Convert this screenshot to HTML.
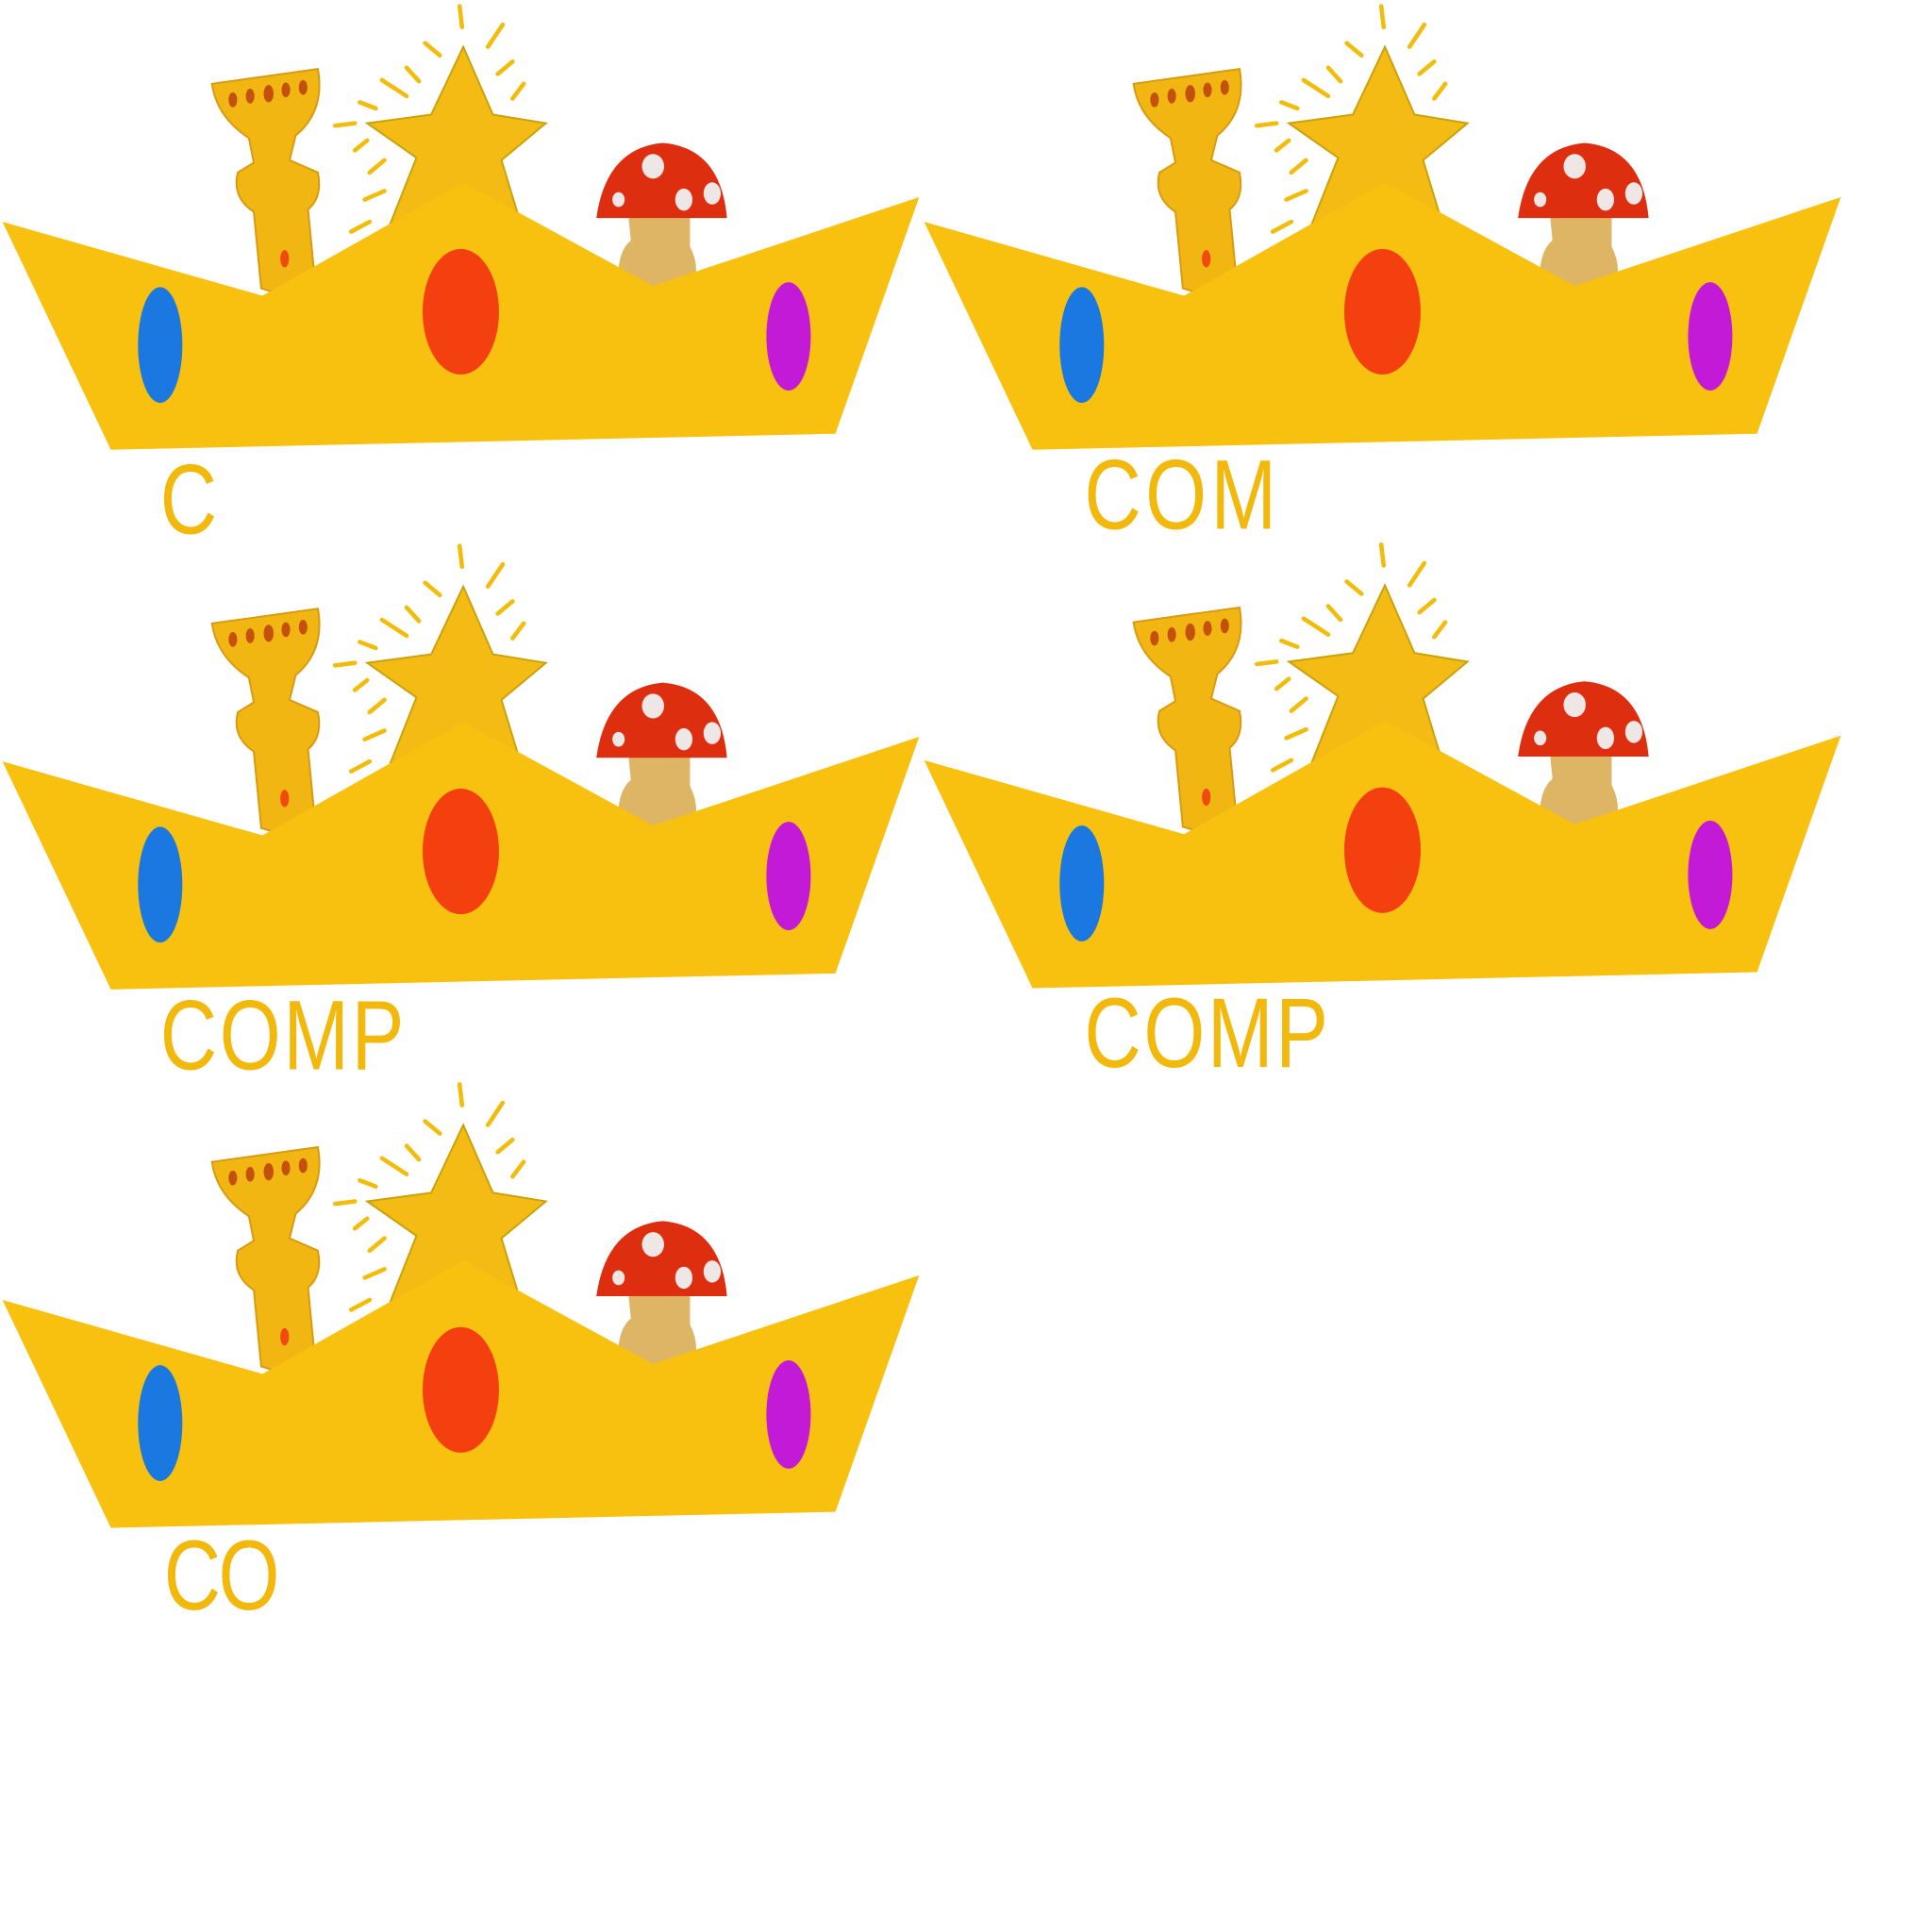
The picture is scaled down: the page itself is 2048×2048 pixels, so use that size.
<!DOCTYPE html>
<html><head><meta charset="utf-8"><style>
html,body{margin:0;padding:0;background:#fff;width:2048px;height:2048px;overflow:hidden}
svg{display:block}
text{font-family:"Liberation Sans",sans-serif;}
</style></head><body>
<svg width="2048" height="2048" viewBox="0 0 1568 1568" xmlns="http://www.w3.org/2000/svg">
<defs>
<g id="crown">
  <g stroke="#f2bc0a" stroke-width="3.5" stroke-linecap="round" fill="none">
    <path d="M373 5 L375 22"/><path d="M408 20 L396 38"/><path d="M345 35 L357 45"/>
    <path d="M416 50 L404 60"/><path d="M425 68 L416 80"/><path d="M310 65 L330 78"/>
    <path d="M292 83 L305 88"/><path d="M272 102 L288 100"/><path d="M288 122 L298 114"/>
    <path d="M300 140 L312 130"/><path d="M296 162 L312 155"/><path d="M285 188 L300 180"/>
    <path d="M330 55 L340 66"/>
  </g>
  <g>
    <path d="M172 68 L258 56 Q264 90 240 110 L235 130 L258 140 Q262 160 250 170 L256 232 L232 240 L212 234 L206 172 Q188 160 193 140 L206 132 L202 112 Q176 95 172 68Z" fill="#f1b612" stroke="#d89a10" stroke-width="1.5"/>
    <g fill="#c4500a"><ellipse cx="189" cy="81" rx="3.5" ry="6"/><ellipse cx="203" cy="78" rx="3.5" ry="6"/><ellipse cx="218" cy="76" rx="4" ry="7"/><ellipse cx="232" cy="73" rx="3.5" ry="6"/><ellipse cx="246" cy="71" rx="3.5" ry="6"/></g>
    <ellipse cx="231" cy="210" rx="3.5" ry="7" fill="#f04a10"/>
  </g>
  <g>
    <path d="M510 175 L560 175 L560 200 Q570 220 560 235 L530 245 L502 232 Q500 205 512 195Z" fill="#ddb564"/>
    <path d="M484 177 Q492 120 538 116 Q585 120 590 177Z" fill="#de2e10"/>
    <g fill="#efe6e6"><ellipse cx="530" cy="135" rx="9" ry="10"/><ellipse cx="502" cy="162" rx="5" ry="6"/><ellipse cx="555" cy="162" rx="7" ry="9"/><ellipse cx="578" cy="157" rx="7" ry="9"/></g>
  </g>
  <path d="M376 38 L400 93 L443 100 L407 130 L424 186 L376 160 L315 186 L338 128 L298 100 L350 93Z" fill="#f3bb14" stroke="#c9a20a" stroke-width="1.5"/>
  <path d="M2 180 L213 240 L376 148 L530 232 L746 160 L678 352 L90 365Z" fill="#f8c10f"/>
  <ellipse cx="130" cy="280" rx="18" ry="47" fill="#1a78e0"/>
  <ellipse cx="374" cy="253" rx="31" ry="51" fill="#f3400e"/>
  <ellipse cx="640" cy="273" rx="18" ry="44" fill="#c21ad6"/>
</g>
</defs>
<g><use href="#crown" x="0" y="0"/></g>
<g><use href="#crown" x="748" y="0"/></g>
<g><use href="#crown" x="0" y="438"/></g>
<g><use href="#crown" x="748" y="437"/></g>
<g><use href="#crown" x="0" y="875"/></g>
<g fill="#f2b80c" font-size="64" letter-spacing="14">
<text transform="translate(130,433) scale(1,1.25)">C</text>
<text transform="translate(880,429) scale(1,1.25)" textLength="170">COM</text>
<text transform="translate(130,868) scale(1,1.25)" textLength="212">COMP</text>
<text transform="translate(880,866) scale(1,1.25)" textLength="212">COMP</text>
<text transform="translate(133,1306) scale(1,1.25)" textLength="108">CO</text>
</g>
</svg>
</body></html>
